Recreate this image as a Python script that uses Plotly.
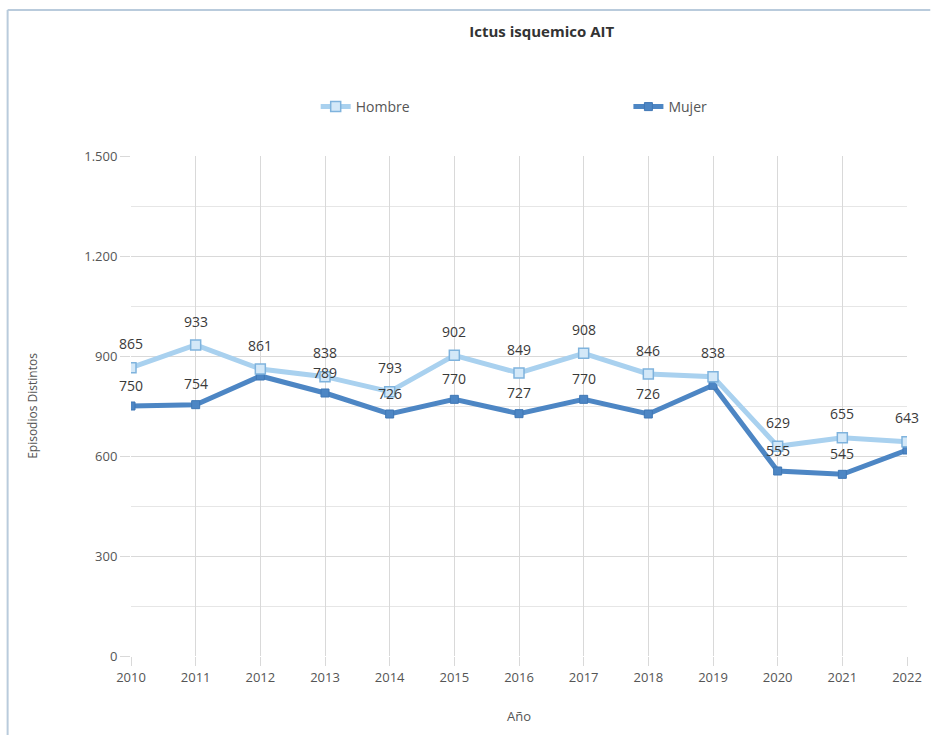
import plotly.graph_objects as go

# Episodes per year, by sex
years = [2010, 2011, 2012, 2013, 2014, 2015, 2016, 2017, 2018, 2019, 2020, 2021, 2022]
hombre = [865, 933, 861, 838, 793, 902, 849, 908, 846, 838, 629, 655, 643]
mujer = [750, 754, 840, 789, 726, 770, 727, 770, 726, 812, 555, 545, 618]
# Labels that stay hidden where they would collide with the other series
mujer_label_shown = [True, True, False, True, True, True, True, True, True, False, True, True, False]

y_ticks = [0, 300, 600, 900, 1200, 1500]

HOMBRE_COLOR = "#a9d1ef"
HOMBRE_EDGE = "#7fb3dd"
MUJER_COLOR = "#4d86c4"
FONT = "Open Sans, DejaVu Sans, sans-serif"
LABEL_FONT = dict(family=FONT, size=14, color="#3a3a3a")
LEGEND_FONT = dict(family=FONT, size=14, color="#555555")
TICK_FONT = dict(family=FONT, size=13, color="#555555")

fig = go.Figure()

fig.add_trace(go.Scatter(
    x=years, y=mujer, name="Mujer", mode="lines+markers", legend="legend2",
    line=dict(color=MUJER_COLOR, width=5),
    marker=dict(symbol="square", size=8, color=MUJER_COLOR,
                line=dict(color="#3f77b5", width=1)),
))
fig.add_trace(go.Scatter(
    x=years, y=hombre, name="Hombre", mode="lines+markers", legend="legend",
    line=dict(color=HOMBRE_COLOR, width=5),
    marker=dict(symbol="square", size=10, color="#d3e8f8",
                line=dict(color=HOMBRE_EDGE, width=1.5)),
))

annotations = []
for x, v in zip(years, hombre):
    annotations.append(dict(x=x, y=v, text=str(v), showarrow=False, yshift=24,
                            font=LABEL_FONT))
for x, v, show in zip(years, mujer, mujer_label_shown):
    if show:
        annotations.append(dict(x=x, y=v, text=str(v), showarrow=False, yshift=21,
                                font=LABEL_FONT))

fig.update_layout(
    width=934, height=735,
    margin=dict(l=131, r=23, t=156, b=79),
    paper_bgcolor="white", plot_bgcolor="white",
    separators=",.",
    font=dict(family=FONT, size=12, color="#555555"),
    title=dict(text="<b>Ictus isquemico AIT</b>", x=0.58, xanchor="center",
               y=0.957, yanchor="middle",
               font=dict(family=FONT, size=15, color="#333333")),
    showlegend=True,
    legend=dict(orientation="h", x=0.238, xanchor="left", y=1.098, yanchor="middle",
                font=LEGEND_FONT, bgcolor="rgba(0,0,0,0)"),
    legend2=dict(orientation="h", x=0.641, xanchor="left", y=1.098, yanchor="middle",
                 font=LEGEND_FONT, bgcolor="rgba(0,0,0,0)"),
    annotations=annotations,
    shapes=[
        dict(type="line", xref="paper", yref="paper", x0=-0.159, x1=1.03,
             y0=1.292, y1=1.292, line=dict(color="#b9cbdc", width=2)),
        dict(type="line", xref="paper", yref="paper", x0=-0.159, x1=-0.159,
             y0=-0.16, y1=1.292, line=dict(color="#b9cbdc", width=2)),
    ],
)

fig.update_xaxes(
    range=[2010, 2022], tickmode="array", tickvals=years,
    ticktext=[str(y) for y in years],
    showgrid=True, gridcolor="#d9d9d9", gridwidth=1,
    ticks="outside", ticklen=9, tickcolor="#d9d9d9",
    showline=False, zeroline=False,
    tickfont=TICK_FONT,
    title=dict(text="Año", font=dict(family=FONT, size=13, color="#555555"), standoff=27),
)
fig.update_yaxes(
    range=[0, 1500], tickmode="array", tickvals=y_ticks, tickformat=",d",
    showgrid=True, gridcolor="#d9d9d9", gridwidth=1,
    minor=dict(dtick=150, showgrid=True, gridcolor="#e6e6e6", gridwidth=1),
    ticks="outside", ticklen=10, tickcolor="#d9d9d9",
    showline=False, zeroline=False,
    tickfont=TICK_FONT,
    title=dict(text="Episodios Distintos", font=dict(family=FONT, size=12, color="#555555"),
               standoff=44),
)

fig.write_html("out.html")
